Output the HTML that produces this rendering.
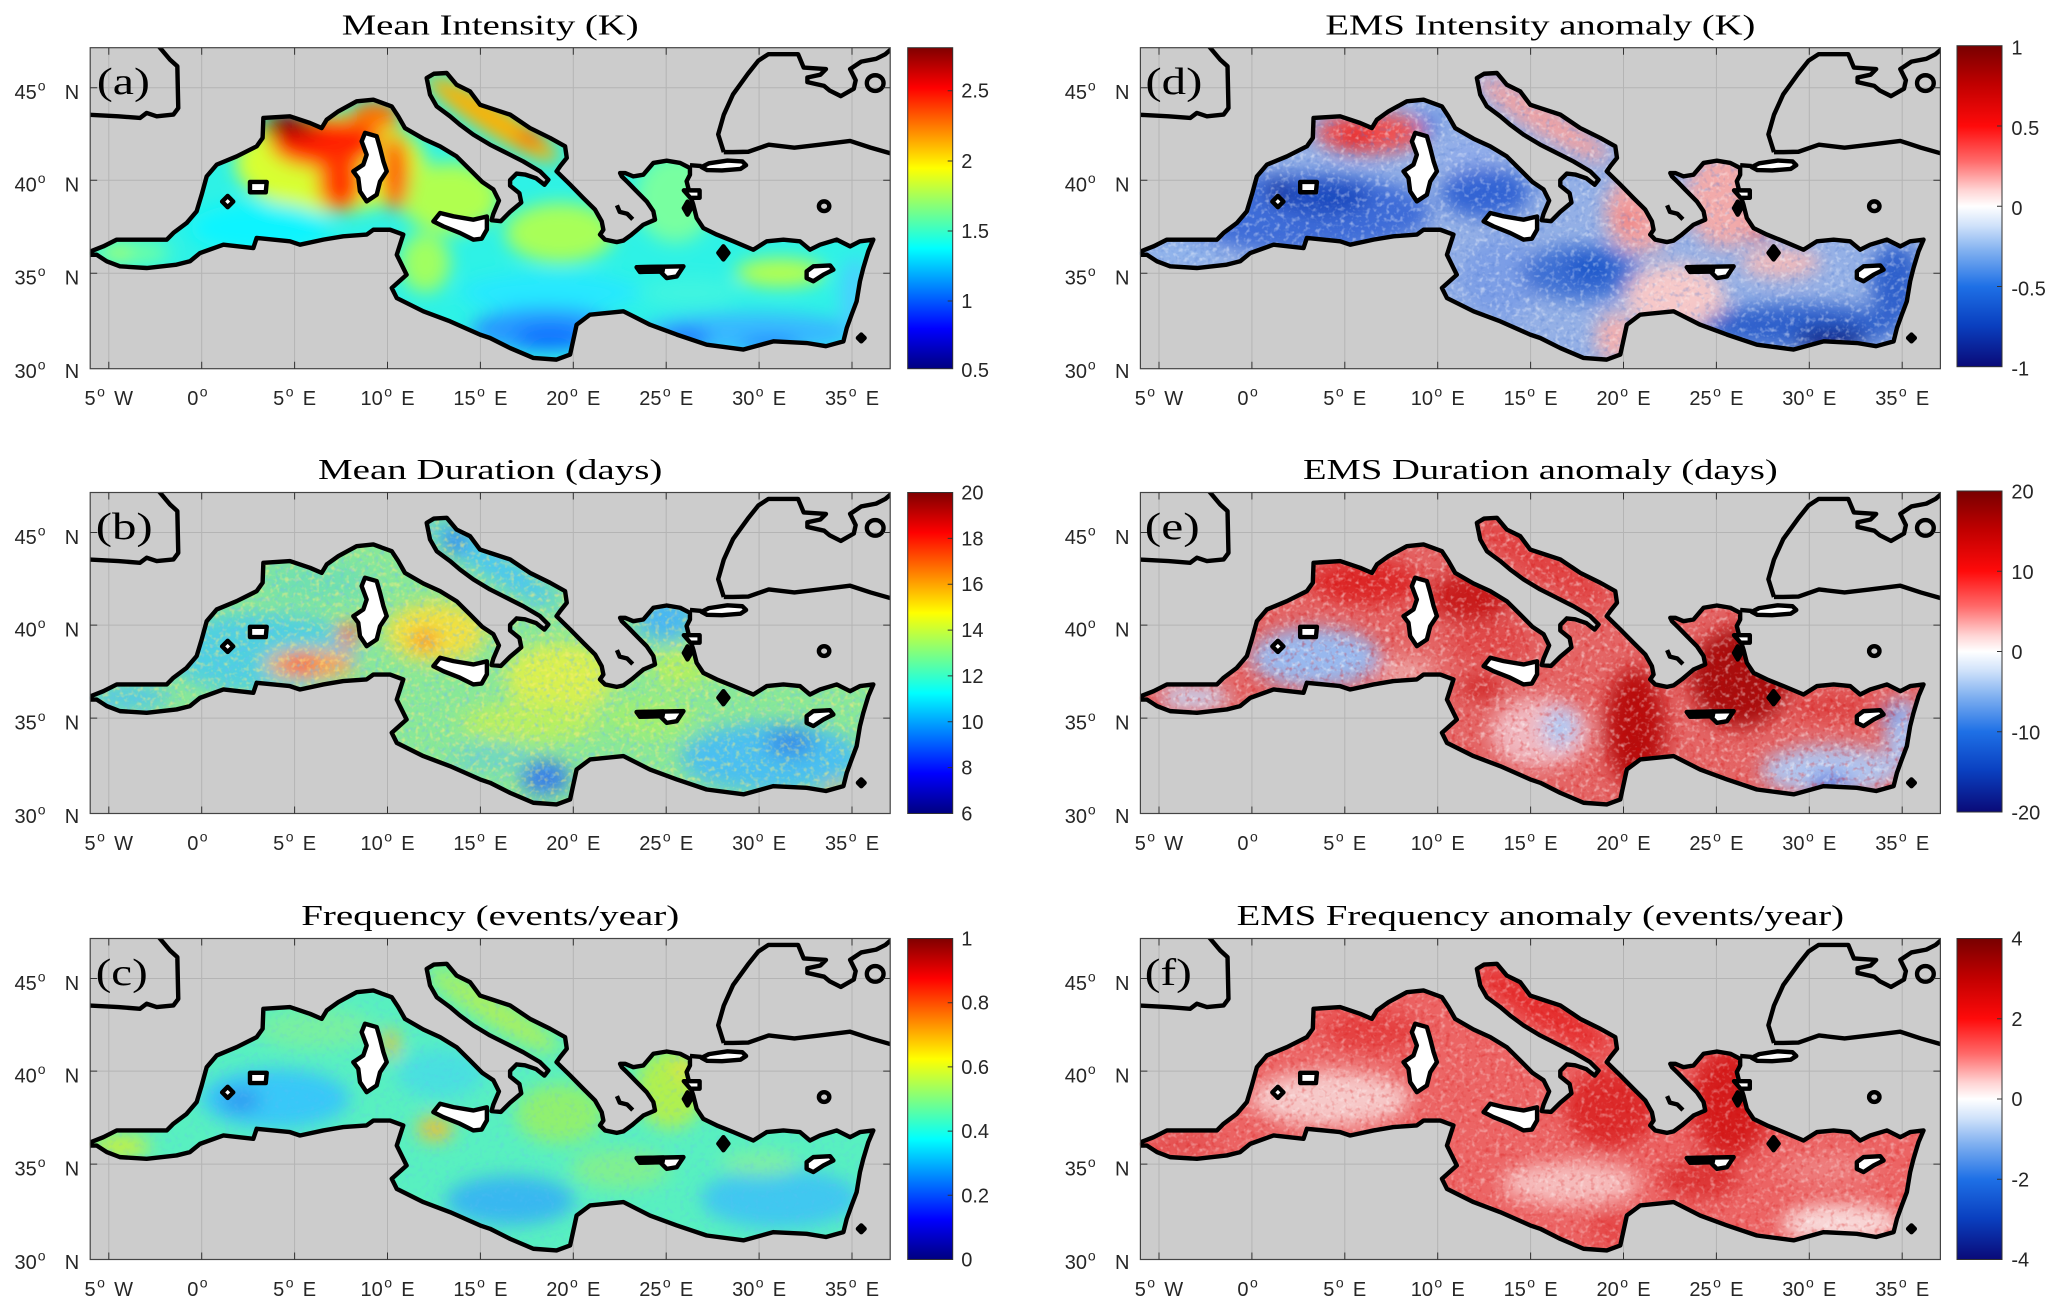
<!DOCTYPE html>
<html><head><meta charset="utf-8"><style>
html,body{margin:0;padding:0;background:#fff}
svg{display:block}
.t text{font-family:"Liberation Sans",sans-serif;font-size:20px;fill:#262626}
.s{font-size:14px}
.ti{font-family:"Liberation Serif",serif;font-size:28px;fill:#000}
.pl{font-family:"Liberation Serif",serif;font-size:38px;fill:#000}
</style></head><body>
<svg width="2067" height="1309" viewBox="0 0 2067 1309" xmlns="http://www.w3.org/2000/svg" xmlns:xlink="http://www.w3.org/1999/xlink">
<defs>
<linearGradient id="jet" x1="0" y1="0" x2="0" y2="1">
<stop offset="0" stop-color="#800000"/><stop offset="0.125" stop-color="#ff0000"/><stop offset="0.375" stop-color="#ffff00"/><stop offset="0.625" stop-color="#00ffff"/><stop offset="0.875" stop-color="#0000ff"/><stop offset="1" stop-color="#000080"/>
</linearGradient>
<linearGradient id="div" x1="0" y1="0" x2="0" y2="1">
<stop offset="0" stop-color="#780000"/><stop offset="0.12" stop-color="#c00000"/><stop offset="0.25" stop-color="#ff0a0a"/><stop offset="0.36" stop-color="#ff6a6a"/><stop offset="0.45" stop-color="#ffd4d4"/><stop offset="0.5" stop-color="#ffffff"/><stop offset="0.56" stop-color="#d0e2fa"/><stop offset="0.64" stop-color="#80b0f0"/><stop offset="0.75" stop-color="#1e70e6"/><stop offset="0.87" stop-color="#0a40c0"/><stop offset="1" stop-color="#0a0a78"/>
</linearGradient>
<filter id="bl" filterUnits="userSpaceOnUse" x="-60" y="-60" width="920" height="441"><feGaussianBlur stdDeviation="9"/></filter>
<filter id="nW" filterUnits="userSpaceOnUse" x="0" y="0" width="800" height="321"><feTurbulence type="fractalNoise" baseFrequency="0.2" numOctaves="2" seed="2"/><feColorMatrix type="matrix" values="0 0 0 0 1 0 0 0 0 1 0 0 0 0 1 3 0 0 0 -1.55"/></filter>
<filter id="nY" filterUnits="userSpaceOnUse" x="0" y="0" width="800" height="321"><feTurbulence type="fractalNoise" baseFrequency="0.2" numOctaves="2" seed="5"/><feColorMatrix type="matrix" values="0 0 0 0 1 0 0 0 0 0.85 0 0 0 0 0.2 3 0 0 0 -1.5"/></filter>
<filter id="nB" filterUnits="userSpaceOnUse" x="0" y="0" width="800" height="321"><feTurbulence type="fractalNoise" baseFrequency="0.2" numOctaves="2" seed="9"/><feColorMatrix type="matrix" values="0 0 0 0 0.15 0 0 0 0 0.5 0 0 0 0 0.95 3 0 0 0 -1.55"/></filter>
<filter id="nN" filterUnits="userSpaceOnUse" x="0" y="0" width="800" height="321"><feTurbulence type="fractalNoise" baseFrequency="0.2" numOctaves="2" seed="11"/><feColorMatrix type="matrix" values="0 0 0 0 0.08 0 0 0 0 0.2 0 0 0 0 0.65 3 0 0 0 -1.6"/></filter>
<filter id="nR" filterUnits="userSpaceOnUse" x="0" y="0" width="800" height="321"><feTurbulence type="fractalNoise" baseFrequency="0.2" numOctaves="2" seed="13"/><feColorMatrix type="matrix" values="0 0 0 0 0.65 0 0 0 0 0 0 0 0 0 0 3 0 0 0 -1.6"/></filter>
<path id="seaP" vector-effect="non-scaling-stroke" d="M-6.05,36.25 L-5.29,36.55 -4.57,36.91 -1.88,36.91 -1.52,37.27 -0.81,37.8 -0.27,38.43 0,39.32 0.27,40.3 0.81,40.93 1.88,41.37 2.96,41.91 3.28,42.36 3.32,43.43 4.75,43.52 5.83,43.16 6.46,42.89 6.73,43.34 7.36,43.79 8.34,44.32 9.24,44.41 10.23,44.05 10.58,43.52 10.94,42.89 11.93,42.32 12.83,41.91 13.72,41.37 14.44,40.66 15.1,40.0 15.7,39.6 16.0,39.0 15.7,38.3 15.6,37.95 16.1,37.9 16.6,38.4 17.2,38.9 17.1,39.4 16.6,39.8 16.6,40.1 16.95,40.45 17.4,40.4 18.0,40.2 18.45,39.85 18.66,40.12 18.21,40.57 17.31,41.1 16.24,41.64 15.52,42.0 14.62,42.54 13.9,43.07 13.37,43.52 12.65,44.05 12.29,44.68 12.11,45.57 12.5,45.8 13.19,45.84 13.72,45.21 14.44,44.86 14.98,44.14 15.52,43.96 16.6,43.61 17.67,42.89 18.75,42.36 19.56,41.91 19.65,41.29 19.29,40.84 19.1,40.57 19.83,39.86 20.54,39.14 21.17,38.52 21.53,37.89 21.62,37.44 21.44,37.18 21.71,36.91 22.34,36.78 22.7,36.86 23.14,37.18 23.77,37.71 24.4,37.98 24.31,38.43 23.95,38.96 23.41,39.5 22.97,39.95 22.61,40.3 22.52,40.48 22.79,40.48 23.23,40.3 23.77,40.39 24.31,41.02 25.03,41.14 25.75,41.02 26.28,40.75 26.28,40.39 26.1,40.04 26.28,39.32 26.46,38.78 26.64,38.07 27.0,37.53 27.72,37.18 28.62,36.82 29.69,36.37 30.41,36.82 31.31,36.91 32.2,36.82 32.74,36.37 33.28,36.64 34.18,36.91 34.9,36.55 35.43,36.82 36.15,36.91 35.88,36.28 35.61,35.39 35.43,34.68 35.25,33.6 34.98,32.89 34.72,32.18 34.54,31.46 33.6,31.2 32.56,31.37 30.77,31.46 29.16,31.02 27.18,31.28 25.57,31.82 24.13,32.35 22.7,33.07 20.9,32.89 20.18,32.35 19.83,30.75 19.1,30.48 17.85,30.57 16.6,31.1 15.52,31.64 14.98,31.82 13.37,32.53 11.93,33.07 10.5,33.78 10.23,34.32 11.03,35.03 10.5,36.1 10.85,37.18 10.14,37.44 9.24,37.44 8.88,37.18 7.62,37.09 6.55,36.91 5.29,36.64 4.75,36.82 2.96,37.0 2.78,36.46 1.17,36.64 -0.09,36.19 -0.63,35.75 -1.35,35.57 -2.96,35.39 -4.4,35.48 -5.11,35.75 -5.65,36.1 -6.05,36.1 Z"/>
<path id="islW" vector-effect="non-scaling-stroke" d="M8.79,42.63 L9.42,42.45 9.6,41.82 9.78,41.11 9.96,40.57 9.6,40.03 9.42,39.32 8.88,38.96 8.52,39.5 8.43,40.21 8.16,40.57 8.7,40.93 8.88,41.46 8.61,42.18 Z M12.47,37.89 L12.83,38.34 13.55,38.16 14.62,37.98 15.35,38.15 15.35,37.45 15.07,36.96 14.62,36.91 13.9,37.27 13.01,37.62 Z M2.6,39.45 L3.45,39.45 3.5,40.0 2.6,40.0 Z M1.4,39.25 L1.7,38.95 1.4,38.65 1.1,38.95 Z M32.56,35.21 L32.92,35.48 33.82,35.53 34.0,35.3 33.46,35.03 32.92,34.68 32.56,34.85 Z M25.95,39.55 L26.8,39.55 26.8,39.15 26.3,39.15 Z M23.41,35.43 L25.93,35.48 25.57,34.94 25.03,34.85 24.67,35.21 23.59,35.18 Z M26.9,40.8 L27.3,41.0 28.3,41.15 29.1,41.1 29.3,40.9 29.0,40.7 28.0,40.62 27.2,40.64 Z"/>
<path id="islB" vector-effect="non-scaling-stroke" d="M23.41,35.43 L24.85,35.46 24.8,35.2 23.59,35.18 Z M26.15,38.95 L26.35,38.6 26.15,38.25 25.95,38.6 Z M28.08,36.55 L28.35,36.2 28.08,35.85 27.81,36.2 Z M35.5,31.82 L35.68,31.64 35.5,31.46 35.32,31.64 Z"/>
<path id="lns" vector-effect="non-scaling-stroke" d="M-2.42,47.4 L-1.7,46.55 -1.31,46.2 -1.26,43.96 -1.52,43.61 -2.42,43.52 -2.96,43.7 -3.32,43.43 -4.48,43.52 -6.2,43.61 M28.1,41.6 L27.8,42.55 28.1,43.6 28.6,44.7 29.4,45.8 29.96,46.5 30.5,46.85 32.1,46.85 32.4,46.13 33.6,46.05 33.3,45.75 32.6,45.6 32.6,45.35 33.5,45.15 33.8,44.9 34.4,44.6 35.1,45.0 35.2,45.45 34.9,46.05 35.5,46.45 36.3,46.6 36.8,46.85 37.2,47.2 M28.1,41.6 L28.6,41.6 29.42,41.62 30.52,42.0 31.9,41.84 33.27,42.0 34.9,42.2 36.0,41.84 37.2,41.5 M26.28,40.9 L26.9,40.85 M22.35,38.75 L22.5,38.4 22.9,38.3 23.2,38.0 M33.22,38.7 a0.28,0.26 0 1,0 0.56,0 a0.28,0.26 0 1,0 -0.56,0 Z M35.8,45.3 a0.45,0.42 0 1,0 0.9,0 a0.45,0.42 0 1,0 -0.9,0 Z"/>
<clipPath id="sea" clipPathUnits="userSpaceOnUse"><use xlink:href="#seaP" href="#seaP" transform="translate(111.47,880.68) scale(18.58,-18.66)"/></clipPath>
<clipPath id="ax" clipPathUnits="userSpaceOnUse"><rect x="0" y="0" width="800" height="321"/></clipPath>
</defs>
<rect x="0" y="0" width="2067" height="1309" fill="#fff"/>

<!-- PANEL A -->
<g transform="translate(90.2,47.7)">
<rect width="800" height="321" fill="#cccccc"/>
<path d="M18.6,0V321M111.5,0V321M204.4,0V321M297.3,0V321M390.2,0V321M483.1,0V321M576,0V321M668.9,0V321M761.8,0V321M0,40H800M0,132.6H800M0,225.6H800" stroke="#b4b4b4" stroke-width="1" fill="none"/>
<g clip-path="url(#sea)">
<rect width="800" height="321" fill="#2ef2e6"/>
<g filter="url(#bl)">
<ellipse cx="240" cy="115" rx="95" ry="50" fill="#d8ff30"/>
<ellipse cx="360" cy="150" rx="50" ry="35" fill="#b0ff50"/>
<ellipse cx="170" cy="180" rx="70" ry="25" fill="#10f4ff"/>
<ellipse cx="235" cy="95" rx="55" ry="25" fill="#ff2000"/>
<ellipse cx="250" cy="135" rx="22" ry="28" fill="#ff3a00"/>
<ellipse cx="305" cy="125" rx="14" ry="38" fill="#ff5a00"/>
<ellipse cx="285" cy="68" rx="25" ry="15" fill="#ff7000"/>
<ellipse cx="200" cy="78" rx="30" ry="12" fill="#a80000"/>
<ellipse cx="190" cy="75" rx="15" ry="8" fill="#800000"/>
<ellipse cx="402" cy="71" rx="78" ry="15" fill="#ffb000" transform="rotate(32 402 71)"/>
<ellipse cx="440" cy="90" rx="14" ry="8" fill="#ff6a00"/>
<ellipse cx="40" cy="205" rx="40" ry="12" fill="#70ffa0"/>
<ellipse cx="28" cy="205" rx="10" ry="8" fill="#b0ff50"/>
<ellipse cx="470" cy="185" rx="55" ry="30" fill="#a8ff58"/>
<ellipse cx="335" cy="215" rx="25" ry="30" fill="#a0ff60"/>
<ellipse cx="460" cy="245" rx="90" ry="20" fill="#28e8ff"/>
<ellipse cx="455" cy="282" rx="75" ry="22" fill="#2898ff"/>
<ellipse cx="460" cy="290" rx="35" ry="12" fill="#1070ff"/>
<ellipse cx="585" cy="150" rx="40" ry="45" fill="#78ffa0"/>
<ellipse cx="660" cy="285" rx="110" ry="20" fill="#38b8ff"/>
<ellipse cx="595" cy="291" rx="25" ry="10" fill="#1a70ff"/>
<ellipse cx="680" cy="298" rx="30" ry="8" fill="#2080ff"/>
<ellipse cx="600" cy="245" rx="50" ry="15" fill="#40f4e0"/>
<ellipse cx="690" cy="225" rx="45" ry="14" fill="#b8ff48"/>
<ellipse cx="765" cy="250" rx="15" ry="40" fill="#48d0ff"/>
</g>
</g>
<g clip-path="url(#ax)"><g transform="translate(111.47,880.68) scale(18.58,-18.66)" stroke="#000" stroke-width="4.4" stroke-linejoin="round"><use href="#seaP" fill="none"/><use href="#islW" fill="#fff"/><use href="#islB" fill="#000"/><use href="#lns" fill="none"/></g></g>
<rect width="800" height="321" fill="none" stroke="#444" stroke-width="1.2"/>
<path d="M18.6,321v-7M111.5,321v-7M204.4,321v-7M297.3,321v-7M390.2,321v-7M483.1,321v-7M576,321v-7M668.9,321v-7M761.8,321v-7M18.6,0v7M111.5,0v7M204.4,0v7M297.3,0v7M390.2,0v7M483.1,0v7M576,0v7M668.9,0v7M761.8,0v7M0,40h7M0,132.6h7M0,225.6h7M800,40h-7M800,132.6h-7M800,225.6h-7" stroke="#333" stroke-width="1"/>
<text class="pl" x="6.7" y="46.5" textLength="53" lengthAdjust="spacingAndGlyphs">(a)</text>
<text class="ti" x="251.5" y="-13.4" textLength="297" lengthAdjust="spacingAndGlyphs">Mean Intensity (K)</text>
<g class="t">
<text y="51.3"><tspan x="-75.7">45</tspan><tspan x="-52.5" dy="-8.5" class="s">o</tspan><tspan x="-25.4" dy="8.5">N</tspan></text>
<text y="144"><tspan x="-75.7">40</tspan><tspan x="-52.5" dy="-8.5" class="s">o</tspan><tspan x="-25.4" dy="8.5">N</tspan></text>
<text y="237"><tspan x="-75.7">35</tspan><tspan x="-52.5" dy="-8.5" class="s">o</tspan><tspan x="-25.4" dy="8.5">N</tspan></text>
<text y="330.3"><tspan x="-75.7">30</tspan><tspan x="-52.5" dy="-8.5" class="s">o</tspan><tspan x="-25.4" dy="8.5">N</tspan></text>
<text y="357.3"><tspan x="-5.7">5</tspan><tspan x="6.9" dy="-8.5" class="s">o</tspan><tspan x="23.9" dy="8.5">W</tspan></text>
<text y="357.3"><tspan x="97">0</tspan><tspan x="109.6" dy="-8.5" class="s">o</tspan></text>
<text y="357.3"><tspan x="182.9">5</tspan><tspan x="195.5" dy="-8.5" class="s">o</tspan><tspan x="212.5" dy="8.5">E</tspan></text>
<text y="357.3"><tspan x="270.3">10</tspan><tspan x="294" dy="-8.5" class="s">o</tspan><tspan x="311" dy="8.5">E</tspan></text>
<text y="357.3"><tspan x="363.2">15</tspan><tspan x="386.9" dy="-8.5" class="s">o</tspan><tspan x="403.9" dy="8.5">E</tspan></text>
<text y="357.3"><tspan x="456.1">20</tspan><tspan x="479.8" dy="-8.5" class="s">o</tspan><tspan x="496.8" dy="8.5">E</tspan></text>
<text y="357.3"><tspan x="549">25</tspan><tspan x="572.7" dy="-8.5" class="s">o</tspan><tspan x="589.7" dy="8.5">E</tspan></text>
<text y="357.3"><tspan x="641.9">30</tspan><tspan x="665.6" dy="-8.5" class="s">o</tspan><tspan x="682.6" dy="8.5">E</tspan></text>
<text y="357.3"><tspan x="734.8">35</tspan><tspan x="758.5" dy="-8.5" class="s">o</tspan><tspan x="775.5" dy="8.5">E</tspan></text>
</g>
<rect x="817.5" y="0" width="45" height="321" fill="url(#jet)" stroke="#333" stroke-width="1"/>
<path d="M862.5,43h-5M862.5,113.3h-5M862.5,183.3h-5M862.5,253.3h-5" stroke="#333"/>
<g class="t">
<text x="871" y="50">2.5</text><text x="871" y="120.3">2</text><text x="871" y="190.3">1.5</text><text x="871" y="260.3">1</text><text x="871" y="329.3">0.5</text>
</g>
</g>

<!-- PANEL B -->
<g transform="translate(90.2,492.5)">
<rect width="800" height="321" fill="#cccccc"/>
<path d="M18.6,0V321M111.5,0V321M204.4,0V321M297.3,0V321M390.2,0V321M483.1,0V321M576,0V321M668.9,0V321M761.8,0V321M0,40H800M0,132.6H800M0,225.6H800" stroke="#b4b4b4" stroke-width="1" fill="none"/>
<g clip-path="url(#sea)">
<rect width="800" height="321" fill="#88e898"/>
<g filter="url(#bl)">
<ellipse cx="170" cy="160" rx="100" ry="40" fill="#50d0e0"/>
<ellipse cx="230" cy="90" rx="60" ry="20" fill="#70e0b0"/>
<ellipse cx="345" cy="140" rx="50" ry="30" fill="#f0e040"/>
<ellipse cx="220" cy="172" rx="45" ry="14" fill="#ffa030"/>
<ellipse cx="210" cy="172" rx="15" ry="8" fill="#ff3010"/>
<ellipse cx="258" cy="142" rx="10" ry="12" fill="#ff5020"/>
<ellipse cx="335" cy="148" rx="13" ry="8" fill="#ff6020"/>
<ellipse cx="402" cy="71" rx="78" ry="15" fill="#48c8f0" transform="rotate(32 402 71)"/>
<ellipse cx="365" cy="48" rx="12" ry="15" fill="#3088f0"/>
<ellipse cx="680" cy="265" rx="90" ry="35" fill="#48c0f0"/>
<ellipse cx="470" cy="185" rx="55" ry="35" fill="#d8f050"/>
<ellipse cx="440" cy="230" rx="70" ry="20" fill="#b8f060"/>
<ellipse cx="400" cy="265" rx="40" ry="15" fill="#70d8c0"/>
<ellipse cx="455" cy="285" rx="25" ry="18" fill="#3880e8"/>
<ellipse cx="575" cy="125" rx="30" ry="25" fill="#48b8f0"/>
<ellipse cx="590" cy="175" rx="30" ry="20" fill="#b0f060"/>
<ellipse cx="560" cy="225" rx="45" ry="20" fill="#a0f070"/>
<ellipse cx="700" cy="250" rx="25" ry="15" fill="#3890e8"/>
<ellipse cx="745" cy="298" rx="8" ry="6" fill="#ff8030"/>
<ellipse cx="40" cy="205" rx="40" ry="12" fill="#50c8e8"/>
</g>
<rect width="800" height="321" fill="#fff" filter="url(#nY)" opacity="0.55"/>
<rect width="800" height="321" fill="#fff" filter="url(#nB)" opacity="0.45"/>
</g>
<g clip-path="url(#ax)"><g transform="translate(111.47,880.68) scale(18.58,-18.66)" stroke="#000" stroke-width="4.4" stroke-linejoin="round"><use href="#seaP" fill="none"/><use href="#islW" fill="#fff"/><use href="#islB" fill="#000"/><use href="#lns" fill="none"/></g></g>
<rect width="800" height="321" fill="none" stroke="#444" stroke-width="1.2"/>
<path d="M18.6,321v-7M111.5,321v-7M204.4,321v-7M297.3,321v-7M390.2,321v-7M483.1,321v-7M576,321v-7M668.9,321v-7M761.8,321v-7M18.6,0v7M111.5,0v7M204.4,0v7M297.3,0v7M390.2,0v7M483.1,0v7M576,0v7M668.9,0v7M761.8,0v7M0,40h7M0,132.6h7M0,225.6h7M800,40h-7M800,132.6h-7M800,225.6h-7" stroke="#333" stroke-width="1"/>
<text class="pl" x="5.5" y="46.5" textLength="57" lengthAdjust="spacingAndGlyphs">(b)</text>
<text class="ti" x="227.8" y="-13.4" textLength="344.4" lengthAdjust="spacingAndGlyphs">Mean Duration (days)</text>
<g class="t">
<text y="51.3"><tspan x="-75.7">45</tspan><tspan x="-52.5" dy="-8.5" class="s">o</tspan><tspan x="-25.4" dy="8.5">N</tspan></text>
<text y="144"><tspan x="-75.7">40</tspan><tspan x="-52.5" dy="-8.5" class="s">o</tspan><tspan x="-25.4" dy="8.5">N</tspan></text>
<text y="237"><tspan x="-75.7">35</tspan><tspan x="-52.5" dy="-8.5" class="s">o</tspan><tspan x="-25.4" dy="8.5">N</tspan></text>
<text y="330.3"><tspan x="-75.7">30</tspan><tspan x="-52.5" dy="-8.5" class="s">o</tspan><tspan x="-25.4" dy="8.5">N</tspan></text>
<text y="357.3"><tspan x="-5.7">5</tspan><tspan x="6.9" dy="-8.5" class="s">o</tspan><tspan x="23.9" dy="8.5">W</tspan></text>
<text y="357.3"><tspan x="97">0</tspan><tspan x="109.6" dy="-8.5" class="s">o</tspan></text>
<text y="357.3"><tspan x="182.9">5</tspan><tspan x="195.5" dy="-8.5" class="s">o</tspan><tspan x="212.5" dy="8.5">E</tspan></text>
<text y="357.3"><tspan x="270.3">10</tspan><tspan x="294" dy="-8.5" class="s">o</tspan><tspan x="311" dy="8.5">E</tspan></text>
<text y="357.3"><tspan x="363.2">15</tspan><tspan x="386.9" dy="-8.5" class="s">o</tspan><tspan x="403.9" dy="8.5">E</tspan></text>
<text y="357.3"><tspan x="456.1">20</tspan><tspan x="479.8" dy="-8.5" class="s">o</tspan><tspan x="496.8" dy="8.5">E</tspan></text>
<text y="357.3"><tspan x="549">25</tspan><tspan x="572.7" dy="-8.5" class="s">o</tspan><tspan x="589.7" dy="8.5">E</tspan></text>
<text y="357.3"><tspan x="641.9">30</tspan><tspan x="665.6" dy="-8.5" class="s">o</tspan><tspan x="682.6" dy="8.5">E</tspan></text>
<text y="357.3"><tspan x="734.8">35</tspan><tspan x="758.5" dy="-8.5" class="s">o</tspan><tspan x="775.5" dy="8.5">E</tspan></text>
</g>
<rect x="817.5" y="0" width="45" height="321" fill="url(#jet)" stroke="#333" stroke-width="1"/>
<path d="M862.5,45.9h-5M862.5,91.7h-5M862.5,137.6h-5M862.5,183.4h-5M862.5,229.3h-5M862.5,275.1h-5" stroke="#333"/>
<g class="t">
<text x="871" y="7">20</text><text x="871" y="52.9">18</text><text x="871" y="98.7">16</text><text x="871" y="144.6">14</text><text x="871" y="190.4">12</text><text x="871" y="236.3">10</text><text x="871" y="282.1">8</text><text x="871" y="328">6</text>
</g>
</g>

<!-- PANEL C -->
<g transform="translate(90.2,938.5)">
<rect width="800" height="321" fill="#cccccc"/>
<path d="M18.6,0V321M111.5,0V321M204.4,0V321M297.3,0V321M390.2,0V321M483.1,0V321M576,0V321M668.9,0V321M761.8,0V321M0,40H800M0,132.6H800M0,225.6H800" stroke="#b4b4b4" stroke-width="1" fill="none"/>
<g clip-path="url(#sea)">
<rect width="800" height="321" fill="#58f0c0"/>
<g filter="url(#bl)">
<ellipse cx="185" cy="160" rx="75" ry="30" fill="#38c8f8"/>
<ellipse cx="150" cy="162" rx="20" ry="12" fill="#3098f0"/>
<ellipse cx="225" cy="90" rx="60" ry="20" fill="#78f0a0"/>
<ellipse cx="30" cy="208" rx="30" ry="12" fill="#c8f040"/>
<ellipse cx="300" cy="105" rx="8" ry="15" fill="#f0c030"/>
<ellipse cx="350" cy="135" rx="45" ry="25" fill="#48e0e0"/>
<ellipse cx="345" cy="190" rx="18" ry="12" fill="#f0c030"/>
<ellipse cx="402" cy="71" rx="78" ry="15" fill="#a8f060" transform="rotate(32 402 71)"/>
<ellipse cx="470" cy="175" rx="45" ry="30" fill="#90f070"/>
<ellipse cx="420" cy="262" rx="65" ry="25" fill="#38b8f0"/>
<ellipse cx="530" cy="230" rx="50" ry="20" fill="#80f090"/>
<ellipse cx="580" cy="150" rx="35" ry="40" fill="#b0f050"/>
<ellipse cx="595" cy="130" rx="10" ry="12" fill="#e8e040"/>
<ellipse cx="690" cy="260" rx="80" ry="30" fill="#40c8f0"/>
<ellipse cx="670" cy="225" rx="40" ry="12" fill="#80f0a0"/>
</g>
<rect width="800" height="321" fill="#fff" filter="url(#nB)" opacity="0.25"/>
</g>
<g clip-path="url(#ax)"><g transform="translate(111.47,880.68) scale(18.58,-18.66)" stroke="#000" stroke-width="4.4" stroke-linejoin="round"><use href="#seaP" fill="none"/><use href="#islW" fill="#fff"/><use href="#islB" fill="#000"/><use href="#lns" fill="none"/></g></g>
<rect width="800" height="321" fill="none" stroke="#444" stroke-width="1.2"/>
<path d="M18.6,321v-7M111.5,321v-7M204.4,321v-7M297.3,321v-7M390.2,321v-7M483.1,321v-7M576,321v-7M668.9,321v-7M761.8,321v-7M18.6,0v7M111.5,0v7M204.4,0v7M297.3,0v7M390.2,0v7M483.1,0v7M576,0v7M668.9,0v7M761.8,0v7M0,40h7M0,132.6h7M0,225.6h7M800,40h-7M800,132.6h-7M800,225.6h-7" stroke="#333" stroke-width="1"/>
<text class="pl" x="5.5" y="46.5" textLength="52" lengthAdjust="spacingAndGlyphs">(c)</text>
<text class="ti" x="211" y="-13.4" textLength="378" lengthAdjust="spacingAndGlyphs">Frequency (events/year)</text>
<g class="t">
<text y="51.3"><tspan x="-75.7">45</tspan><tspan x="-52.5" dy="-8.5" class="s">o</tspan><tspan x="-25.4" dy="8.5">N</tspan></text>
<text y="144"><tspan x="-75.7">40</tspan><tspan x="-52.5" dy="-8.5" class="s">o</tspan><tspan x="-25.4" dy="8.5">N</tspan></text>
<text y="237"><tspan x="-75.7">35</tspan><tspan x="-52.5" dy="-8.5" class="s">o</tspan><tspan x="-25.4" dy="8.5">N</tspan></text>
<text y="330.3"><tspan x="-75.7">30</tspan><tspan x="-52.5" dy="-8.5" class="s">o</tspan><tspan x="-25.4" dy="8.5">N</tspan></text>
<text y="357.3"><tspan x="-5.7">5</tspan><tspan x="6.9" dy="-8.5" class="s">o</tspan><tspan x="23.9" dy="8.5">W</tspan></text>
<text y="357.3"><tspan x="97">0</tspan><tspan x="109.6" dy="-8.5" class="s">o</tspan></text>
<text y="357.3"><tspan x="182.9">5</tspan><tspan x="195.5" dy="-8.5" class="s">o</tspan><tspan x="212.5" dy="8.5">E</tspan></text>
<text y="357.3"><tspan x="270.3">10</tspan><tspan x="294" dy="-8.5" class="s">o</tspan><tspan x="311" dy="8.5">E</tspan></text>
<text y="357.3"><tspan x="363.2">15</tspan><tspan x="386.9" dy="-8.5" class="s">o</tspan><tspan x="403.9" dy="8.5">E</tspan></text>
<text y="357.3"><tspan x="456.1">20</tspan><tspan x="479.8" dy="-8.5" class="s">o</tspan><tspan x="496.8" dy="8.5">E</tspan></text>
<text y="357.3"><tspan x="549">25</tspan><tspan x="572.7" dy="-8.5" class="s">o</tspan><tspan x="589.7" dy="8.5">E</tspan></text>
<text y="357.3"><tspan x="641.9">30</tspan><tspan x="665.6" dy="-8.5" class="s">o</tspan><tspan x="682.6" dy="8.5">E</tspan></text>
<text y="357.3"><tspan x="734.8">35</tspan><tspan x="758.5" dy="-8.5" class="s">o</tspan><tspan x="775.5" dy="8.5">E</tspan></text>
</g>
<rect x="817.5" y="0" width="45" height="321" fill="url(#jet)" stroke="#333" stroke-width="1"/>
<path d="M862.5,64.2h-5M862.5,128.4h-5M862.5,192.6h-5M862.5,256.8h-5" stroke="#333"/>
<g class="t">
<text x="871" y="7">1</text><text x="871" y="71.2">0.8</text><text x="871" y="135.4">0.6</text><text x="871" y="199.6">0.4</text><text x="871" y="263.8">0.2</text><text x="871" y="328">0</text>
</g>
</g>

<!-- PANEL D -->
<g transform="translate(1140.4,47.7)">
<rect width="800" height="321" fill="#cccccc"/>
<path d="M18.6,0V321M111.5,0V321M204.4,0V321M297.3,0V321M390.2,0V321M483.1,0V321M576,0V321M668.9,0V321M761.8,0V321M0,40H800M0,132.6H800M0,225.6H800" stroke="#b4b4b4" stroke-width="1" fill="none"/>
<g clip-path="url(#sea)">
<rect width="800" height="321" fill="#94b0e6"/>
<g filter="url(#bl)">
<ellipse cx="160" cy="165" rx="130" ry="40" fill="#3c6cd8"/>
<ellipse cx="185" cy="150" rx="45" ry="18" fill="#1e4cc0"/>
<ellipse cx="139" cy="144" rx="12" ry="12" fill="#14309c"/>
<ellipse cx="40" cy="205" rx="45" ry="12" fill="#90b4ec"/>
<ellipse cx="230" cy="85" rx="55" ry="20" fill="#f05050"/>
<ellipse cx="215" cy="90" rx="20" ry="10" fill="#e82020"/>
<ellipse cx="290" cy="75" rx="12" ry="10" fill="#5080e0"/>
<ellipse cx="330" cy="110" rx="30" ry="20" fill="#90acea"/>
<ellipse cx="345" cy="145" rx="45" ry="25" fill="#3064d4"/>
<ellipse cx="402" cy="71" rx="78" ry="15" fill="#f2a2a2" transform="rotate(32 402 71)"/>
<ellipse cx="360" cy="230" rx="40" ry="40" fill="#7c9ee6"/>
<ellipse cx="500" cy="165" rx="35" ry="40" fill="#f2a4a4"/>
<ellipse cx="488" cy="172" rx="8" ry="8" fill="#e84040"/>
<ellipse cx="440" cy="225" rx="60" ry="28" fill="#3c70d4"/>
<ellipse cx="450" cy="220" rx="25" ry="15" fill="#1c58cc"/>
<ellipse cx="535" cy="250" rx="50" ry="35" fill="#f6c8c8"/>
<ellipse cx="475" cy="290" rx="20" ry="25" fill="#f2b0b0"/>
<ellipse cx="585" cy="150" rx="40" ry="50" fill="#f2aaaa"/>
<ellipse cx="619" cy="183" rx="10" ry="10" fill="#f06060"/>
<ellipse cx="640" cy="215" rx="40" ry="15" fill="#f2baba"/>
<ellipse cx="660" cy="278" rx="100" ry="22" fill="#2f60cc"/>
<ellipse cx="690" cy="292" rx="35" ry="12" fill="#0e2488"/>
<ellipse cx="755" cy="235" rx="25" ry="40" fill="#2f60cc"/>
</g>
<rect width="800" height="321" fill="#fff" filter="url(#nW)" opacity="0.45"/>
<rect width="800" height="321" fill="#fff" filter="url(#nN)" opacity="0.35"/>
</g>
<g clip-path="url(#ax)"><g transform="translate(111.47,880.68) scale(18.58,-18.66)" stroke="#000" stroke-width="4.4" stroke-linejoin="round"><use href="#seaP" fill="none"/><use href="#islW" fill="#fff"/><use href="#islB" fill="#000"/><use href="#lns" fill="none"/></g></g>
<rect width="800" height="321" fill="none" stroke="#444" stroke-width="1.2"/>
<path d="M18.6,321v-7M111.5,321v-7M204.4,321v-7M297.3,321v-7M390.2,321v-7M483.1,321v-7M576,321v-7M668.9,321v-7M761.8,321v-7M18.6,0v7M111.5,0v7M204.4,0v7M297.3,0v7M390.2,0v7M483.1,0v7M576,0v7M668.9,0v7M761.8,0v7M0,40h7M0,132.6h7M0,225.6h7M800,40h-7M800,132.6h-7M800,225.6h-7" stroke="#333" stroke-width="1"/>
<text class="pl" x="5" y="46.5" textLength="57" lengthAdjust="spacingAndGlyphs">(d)</text>
<text class="ti" x="185" y="-13.4" textLength="430" lengthAdjust="spacingAndGlyphs">EMS Intensity anomaly (K)</text>
<g class="t">
<text y="51.3"><tspan x="-75.7">45</tspan><tspan x="-52.5" dy="-8.5" class="s">o</tspan><tspan x="-25.4" dy="8.5">N</tspan></text>
<text y="144"><tspan x="-75.7">40</tspan><tspan x="-52.5" dy="-8.5" class="s">o</tspan><tspan x="-25.4" dy="8.5">N</tspan></text>
<text y="237"><tspan x="-75.7">35</tspan><tspan x="-52.5" dy="-8.5" class="s">o</tspan><tspan x="-25.4" dy="8.5">N</tspan></text>
<text y="330.3"><tspan x="-75.7">30</tspan><tspan x="-52.5" dy="-8.5" class="s">o</tspan><tspan x="-25.4" dy="8.5">N</tspan></text>
<text y="357.3"><tspan x="-5.7">5</tspan><tspan x="6.9" dy="-8.5" class="s">o</tspan><tspan x="23.9" dy="8.5">W</tspan></text>
<text y="357.3"><tspan x="97">0</tspan><tspan x="109.6" dy="-8.5" class="s">o</tspan></text>
<text y="357.3"><tspan x="182.9">5</tspan><tspan x="195.5" dy="-8.5" class="s">o</tspan><tspan x="212.5" dy="8.5">E</tspan></text>
<text y="357.3"><tspan x="270.3">10</tspan><tspan x="294" dy="-8.5" class="s">o</tspan><tspan x="311" dy="8.5">E</tspan></text>
<text y="357.3"><tspan x="363.2">15</tspan><tspan x="386.9" dy="-8.5" class="s">o</tspan><tspan x="403.9" dy="8.5">E</tspan></text>
<text y="357.3"><tspan x="456.1">20</tspan><tspan x="479.8" dy="-8.5" class="s">o</tspan><tspan x="496.8" dy="8.5">E</tspan></text>
<text y="357.3"><tspan x="549">25</tspan><tspan x="572.7" dy="-8.5" class="s">o</tspan><tspan x="589.7" dy="8.5">E</tspan></text>
<text y="357.3"><tspan x="641.9">30</tspan><tspan x="665.6" dy="-8.5" class="s">o</tspan><tspan x="682.6" dy="8.5">E</tspan></text>
<text y="357.3"><tspan x="734.8">35</tspan><tspan x="758.5" dy="-8.5" class="s">o</tspan><tspan x="775.5" dy="8.5">E</tspan></text>
</g>
<rect x="816.6" y="-2" width="45" height="321" fill="url(#div)" stroke="#333" stroke-width="1"/>
<path d="M861.6,78.25h-5M861.6,158.5h-5M861.6,238.75h-5" stroke="#333"/>
<g class="t">
<text x="871" y="7">1</text><text x="871" y="87.3">0.5</text><text x="871" y="167.5">0</text><text x="871" y="247.8">-0.5</text><text x="871" y="328">-1</text>
</g>
</g>

<!-- PANEL E -->
<g transform="translate(1140.4,492.5)">
<rect width="800" height="321" fill="#cccccc"/>
<path d="M18.6,0V321M111.5,0V321M204.4,0V321M297.3,0V321M390.2,0V321M483.1,0V321M576,0V321M668.9,0V321M761.8,0V321M0,40H800M0,132.6H800M0,225.6H800" stroke="#b4b4b4" stroke-width="1" fill="none"/>
<g clip-path="url(#sea)">
<rect width="800" height="321" fill="#e46464"/>
<g filter="url(#bl)">
<ellipse cx="175" cy="165" rx="65" ry="30" fill="#98b8ee"/>
<ellipse cx="50" cy="205" rx="40" ry="12" fill="#c8d4f0"/>
<ellipse cx="15" cy="205" rx="10" ry="10" fill="#e04040"/>
<ellipse cx="225" cy="90" rx="55" ry="22" fill="#dc2828"/>
<ellipse cx="330" cy="105" rx="40" ry="25" fill="#c81c1c"/>
<ellipse cx="265" cy="180" rx="30" ry="15" fill="#eca0a0"/>
<ellipse cx="350" cy="150" rx="40" ry="20" fill="#e04848"/>
<ellipse cx="402" cy="71" rx="78" ry="15" fill="#e04040" transform="rotate(32 402 71)"/>
<ellipse cx="340" cy="195" rx="20" ry="12" fill="#d02828"/>
<ellipse cx="400" cy="240" rx="50" ry="35" fill="#f0b8c0"/>
<ellipse cx="420" cy="235" rx="18" ry="20" fill="#b0c8f2"/>
<ellipse cx="495" cy="235" rx="30" ry="60" fill="#b81010"/>
<ellipse cx="600" cy="185" rx="50" ry="50" fill="#a80c0c"/>
<ellipse cx="690" cy="278" rx="70" ry="25" fill="#b0c4ee"/>
<ellipse cx="690" cy="292" rx="20" ry="10" fill="#4070e0"/>
<ellipse cx="762" cy="240" rx="18" ry="35" fill="#a8c0f0"/>
<ellipse cx="752" cy="222" rx="8" ry="8" fill="#3070e0"/>
<ellipse cx="690" cy="215" rx="40" ry="12" fill="#dc4040"/>
</g>
<rect width="800" height="321" fill="#fff" filter="url(#nW)" opacity="0.5"/>
<rect width="800" height="321" fill="#fff" filter="url(#nR)" opacity="0.35"/>
</g>
<g clip-path="url(#ax)"><g transform="translate(111.47,880.68) scale(18.58,-18.66)" stroke="#000" stroke-width="4.4" stroke-linejoin="round"><use href="#seaP" fill="none"/><use href="#islW" fill="#fff"/><use href="#islB" fill="#000"/><use href="#lns" fill="none"/></g></g>
<rect width="800" height="321" fill="none" stroke="#444" stroke-width="1.2"/>
<path d="M18.6,321v-7M111.5,321v-7M204.4,321v-7M297.3,321v-7M390.2,321v-7M483.1,321v-7M576,321v-7M668.9,321v-7M761.8,321v-7M18.6,0v7M111.5,0v7M204.4,0v7M297.3,0v7M390.2,0v7M483.1,0v7M576,0v7M668.9,0v7M761.8,0v7M0,40h7M0,132.6h7M0,225.6h7M800,40h-7M800,132.6h-7M800,225.6h-7" stroke="#333" stroke-width="1"/>
<text class="pl" x="4.4" y="46.5" textLength="55" lengthAdjust="spacingAndGlyphs">(e)</text>
<text class="ti" x="162.6" y="-13.4" textLength="474.7" lengthAdjust="spacingAndGlyphs">EMS Duration anomaly (days)</text>
<g class="t">
<text y="51.3"><tspan x="-75.7">45</tspan><tspan x="-52.5" dy="-8.5" class="s">o</tspan><tspan x="-25.4" dy="8.5">N</tspan></text>
<text y="144"><tspan x="-75.7">40</tspan><tspan x="-52.5" dy="-8.5" class="s">o</tspan><tspan x="-25.4" dy="8.5">N</tspan></text>
<text y="237"><tspan x="-75.7">35</tspan><tspan x="-52.5" dy="-8.5" class="s">o</tspan><tspan x="-25.4" dy="8.5">N</tspan></text>
<text y="330.3"><tspan x="-75.7">30</tspan><tspan x="-52.5" dy="-8.5" class="s">o</tspan><tspan x="-25.4" dy="8.5">N</tspan></text>
<text y="357.3"><tspan x="-5.7">5</tspan><tspan x="6.9" dy="-8.5" class="s">o</tspan><tspan x="23.9" dy="8.5">W</tspan></text>
<text y="357.3"><tspan x="97">0</tspan><tspan x="109.6" dy="-8.5" class="s">o</tspan></text>
<text y="357.3"><tspan x="182.9">5</tspan><tspan x="195.5" dy="-8.5" class="s">o</tspan><tspan x="212.5" dy="8.5">E</tspan></text>
<text y="357.3"><tspan x="270.3">10</tspan><tspan x="294" dy="-8.5" class="s">o</tspan><tspan x="311" dy="8.5">E</tspan></text>
<text y="357.3"><tspan x="363.2">15</tspan><tspan x="386.9" dy="-8.5" class="s">o</tspan><tspan x="403.9" dy="8.5">E</tspan></text>
<text y="357.3"><tspan x="456.1">20</tspan><tspan x="479.8" dy="-8.5" class="s">o</tspan><tspan x="496.8" dy="8.5">E</tspan></text>
<text y="357.3"><tspan x="549">25</tspan><tspan x="572.7" dy="-8.5" class="s">o</tspan><tspan x="589.7" dy="8.5">E</tspan></text>
<text y="357.3"><tspan x="641.9">30</tspan><tspan x="665.6" dy="-8.5" class="s">o</tspan><tspan x="682.6" dy="8.5">E</tspan></text>
<text y="357.3"><tspan x="734.8">35</tspan><tspan x="758.5" dy="-8.5" class="s">o</tspan><tspan x="775.5" dy="8.5">E</tspan></text>
</g>
<rect x="816.6" y="-1.5" width="45" height="321" fill="url(#div)" stroke="#333" stroke-width="1"/>
<path d="M861.6,78.75h-5M861.6,159h-5M861.6,239.25h-5" stroke="#333"/>
<g class="t">
<text x="871" y="6">20</text><text x="871" y="86.3">10</text><text x="871" y="166.5">0</text><text x="871" y="246.8">-10</text><text x="871" y="327">-20</text>
</g>
</g>

<!-- PANEL F -->
<g transform="translate(1140.4,938.5)">
<rect width="800" height="321" fill="#cccccc"/>
<path d="M18.6,0V321M111.5,0V321M204.4,0V321M297.3,0V321M390.2,0V321M483.1,0V321M576,0V321M668.9,0V321M761.8,0V321M0,40H800M0,132.6H800M0,225.6H800" stroke="#b4b4b4" stroke-width="1" fill="none"/>
<g clip-path="url(#sea)">
<rect width="800" height="321" fill="#ec6464"/>
<g filter="url(#bl)">
<ellipse cx="190" cy="160" rx="80" ry="28" fill="#f6c8c8"/>
<ellipse cx="230" cy="92" rx="50" ry="20" fill="#e44040"/>
<ellipse cx="40" cy="205" rx="40" ry="12" fill="#e45050"/>
<ellipse cx="402" cy="71" rx="78" ry="15" fill="#e42c2c" transform="rotate(32 402 71)"/>
<ellipse cx="470" cy="170" rx="45" ry="40" fill="#dc2c2c"/>
<ellipse cx="430" cy="245" rx="70" ry="22" fill="#f6bcbc"/>
<ellipse cx="470" cy="290" rx="20" ry="18" fill="#e44444"/>
<ellipse cx="590" cy="165" rx="40" ry="55" fill="#d41c1c"/>
<ellipse cx="560" cy="240" rx="40" ry="20" fill="#dc3434"/>
<ellipse cx="700" cy="285" rx="60" ry="20" fill="#f8d8d8"/>
<ellipse cx="690" cy="230" rx="50" ry="15" fill="#ee8080"/>
</g>
<rect width="800" height="321" fill="#fff" filter="url(#nW)" opacity="0.4"/>
<rect width="800" height="321" fill="#fff" filter="url(#nR)" opacity="0.3"/>
</g>
<g clip-path="url(#ax)"><g transform="translate(111.47,880.68) scale(18.58,-18.66)" stroke="#000" stroke-width="4.4" stroke-linejoin="round"><use href="#seaP" fill="none"/><use href="#islW" fill="#fff"/><use href="#islB" fill="#000"/><use href="#lns" fill="none"/></g></g>
<rect width="800" height="321" fill="none" stroke="#444" stroke-width="1.2"/>
<path d="M18.6,321v-7M111.5,321v-7M204.4,321v-7M297.3,321v-7M390.2,321v-7M483.1,321v-7M576,321v-7M668.9,321v-7M761.8,321v-7M18.6,0v7M111.5,0v7M204.4,0v7M297.3,0v7M390.2,0v7M483.1,0v7M576,0v7M668.9,0v7M761.8,0v7M0,40h7M0,132.6h7M0,225.6h7M800,40h-7M800,132.6h-7M800,225.6h-7" stroke="#333" stroke-width="1"/>
<text class="pl" x="4.4" y="46.5" textLength="47" lengthAdjust="spacingAndGlyphs">(f)</text>
<text class="ti" x="96.2" y="-13.4" textLength="607.5" lengthAdjust="spacingAndGlyphs">EMS Frequency anomaly (events/year)</text>
<g class="t">
<text y="51.3"><tspan x="-75.7">45</tspan><tspan x="-52.5" dy="-8.5" class="s">o</tspan><tspan x="-25.4" dy="8.5">N</tspan></text>
<text y="144"><tspan x="-75.7">40</tspan><tspan x="-52.5" dy="-8.5" class="s">o</tspan><tspan x="-25.4" dy="8.5">N</tspan></text>
<text y="237"><tspan x="-75.7">35</tspan><tspan x="-52.5" dy="-8.5" class="s">o</tspan><tspan x="-25.4" dy="8.5">N</tspan></text>
<text y="330.3"><tspan x="-75.7">30</tspan><tspan x="-52.5" dy="-8.5" class="s">o</tspan><tspan x="-25.4" dy="8.5">N</tspan></text>
<text y="357.3"><tspan x="-5.7">5</tspan><tspan x="6.9" dy="-8.5" class="s">o</tspan><tspan x="23.9" dy="8.5">W</tspan></text>
<text y="357.3"><tspan x="97">0</tspan><tspan x="109.6" dy="-8.5" class="s">o</tspan></text>
<text y="357.3"><tspan x="182.9">5</tspan><tspan x="195.5" dy="-8.5" class="s">o</tspan><tspan x="212.5" dy="8.5">E</tspan></text>
<text y="357.3"><tspan x="270.3">10</tspan><tspan x="294" dy="-8.5" class="s">o</tspan><tspan x="311" dy="8.5">E</tspan></text>
<text y="357.3"><tspan x="363.2">15</tspan><tspan x="386.9" dy="-8.5" class="s">o</tspan><tspan x="403.9" dy="8.5">E</tspan></text>
<text y="357.3"><tspan x="456.1">20</tspan><tspan x="479.8" dy="-8.5" class="s">o</tspan><tspan x="496.8" dy="8.5">E</tspan></text>
<text y="357.3"><tspan x="549">25</tspan><tspan x="572.7" dy="-8.5" class="s">o</tspan><tspan x="589.7" dy="8.5">E</tspan></text>
<text y="357.3"><tspan x="641.9">30</tspan><tspan x="665.6" dy="-8.5" class="s">o</tspan><tspan x="682.6" dy="8.5">E</tspan></text>
<text y="357.3"><tspan x="734.8">35</tspan><tspan x="758.5" dy="-8.5" class="s">o</tspan><tspan x="775.5" dy="8.5">E</tspan></text>
</g>
<rect x="816.6" y="0" width="45" height="321" fill="url(#div)" stroke="#333" stroke-width="1"/>
<path d="M861.6,80.25h-5M861.6,160.5h-5M861.6,240.75h-5" stroke="#333"/>
<g class="t">
<text x="871" y="7">4</text><text x="871" y="87.3">2</text><text x="871" y="167.5">0</text><text x="871" y="247.8">-2</text><text x="871" y="328">-4</text>
</g>
</g>
</svg>
</body></html>
